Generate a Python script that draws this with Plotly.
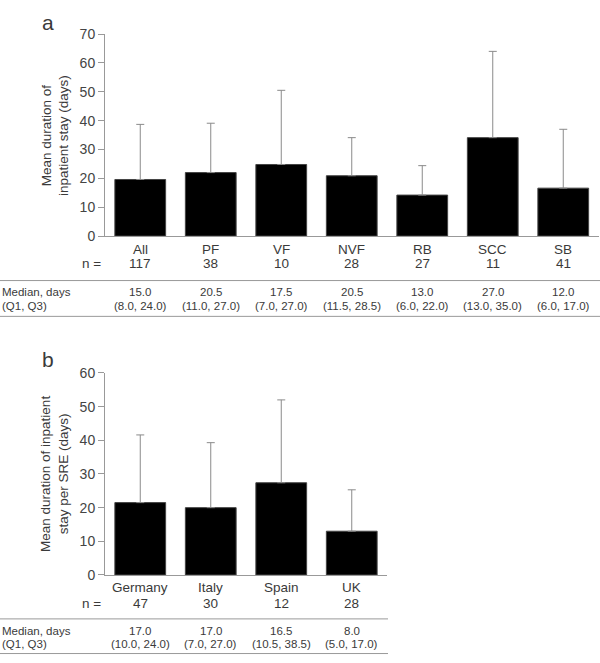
import plotly.graph_objects as go

# ---- Data ----
cats_a = ["All", "PF", "VF", "NVF", "RB", "SCC", "SB"]
n_a = ["117", "38", "10", "28", "27", "11", "41"]
mean_a = [19.6, 22.0, 24.8, 20.9, 14.2, 34.1, 16.6]
upper_a = [38.7, 39.1, 50.5, 34.1, 24.4, 64.0, 37.0]
median_a = ["15.0", "20.5", "17.5", "20.5", "13.0", "27.0", "12.0"]
q_a = ["(8.0, 24.0)", "(11.0, 27.0)", "(7.0, 27.0)", "(11.5, 28.5)",
       "(6.0, 22.0)", "(13.0, 35.0)", "(6.0, 17.0)"]

cats_b = ["Germany", "Italy", "Spain", "UK"]
n_b = ["47", "30", "12", "28"]
mean_b = [21.5, 20.0, 27.4, 13.0]
upper_b = [41.6, 39.3, 52.0, 25.3]
median_b = ["17.0", "17.0", "16.5", "8.0"]
q_b = ["(10.0, 24.0)", "(7.0, 27.0)", "(10.5, 38.5)", "(5.0, 17.0)"]

yticks_a = [0, 10, 20, 30, 40, 50, 60, 70]
yticks_b = [0, 10, 20, 30, 40, 50, 60]

W, H = 600, 663
FONT = "Liberation Sans"
TXT = "#3a3a3a"
GREY = "#999999"

def py(px):
    return 1 - px / H

def pxx(px):
    return px / W

fig = go.Figure()

def add_panel(cats, means, uppers, xaxis, yaxis):
    err = [u - m for u, m in zip(uppers, means)]
    fig.add_trace(go.Bar(
        x=list(range(len(cats))), y=means,
        xaxis=xaxis, yaxis=yaxis,
        width=0.72,
        marker=dict(color="black", line=dict(color="#444444", width=1)),
        error_y=dict(type="data", array=err, arrayminus=[0] * len(err),
                     symmetric=False, color="#8a8a8a", thickness=1, width=4),
        showlegend=False,
    ))

add_panel(cats_a, mean_a, upper_a, "x", "y")
add_panel(cats_b, mean_b, upper_b, "x2", "y2")

axis_common = dict(showgrid=False, zeroline=False, showline=True,
                   linecolor=GREY, linewidth=1)

# panel geometry (pixels)
a_top, a_bot = 26.7, 233.7
b_top, b_bot = 374.0, 581.0
x_left = 105.0
x_right_a = 598.5
x_right_b = 387.0

fig.update_layout(
    width=W, height=H,
    margin=dict(l=0, r=0, t=0, b=0),
    paper_bgcolor="white", plot_bgcolor="white",
    font=dict(family=FONT, color=TXT, size=13),
    xaxis=dict(domain=[pxx(x_left), pxx(x_right_a)], range=[-0.5, 6.5],
               showticklabels=False, ticks="", anchor="y", **axis_common),
    yaxis=dict(domain=[py(a_bot), py(a_top)], range=[0, 70],
               tickvals=yticks_a, ticks="outside", ticklen=6, tickcolor=GREY,
               tickfont=dict(size=14, color="#444444"), anchor="x",
               **axis_common),
    xaxis2=dict(domain=[pxx(x_left), pxx(x_right_b)], range=[-0.5, 3.5],
                showticklabels=False, ticks="", anchor="y2", **axis_common),
    yaxis2=dict(domain=[py(b_bot), py(b_top)], range=[0, 60],
                tickvals=yticks_b, ticks="outside", ticklen=6, tickcolor=GREY,
                tickfont=dict(size=14, color="#444444"), anchor="x2",
                **axis_common),
)

ann = []
shapes = []

def rows(cats, ns, meds, qs, xref, y_name, y_n, y_line1, y_med, y_q, y_line2, line_right):
    for i, c in enumerate(cats):
        ann.append(dict(x=i, y=py(y_name), xref=xref, yref="paper", text=c,
                        showarrow=False, font=dict(size=13.5), yanchor="middle"))
        ann.append(dict(x=i, y=py(y_n), xref=xref, yref="paper", text=ns[i],
                        showarrow=False, font=dict(size=13.5), yanchor="middle"))
        ann.append(dict(x=i, y=py(y_med), xref=xref, yref="paper", text=meds[i],
                        showarrow=False, font=dict(size=11.5), yanchor="middle"))
        ann.append(dict(x=i, y=py(y_q), xref=xref, yref="paper", text=qs[i],
                        showarrow=False, font=dict(size=11.5), yanchor="middle"))
    ann.append(dict(x=pxx(103), y=py(y_n), xref="paper", yref="paper", text="n =",
                    showarrow=False, font=dict(size=13.5), xanchor="right",
                    yanchor="middle"))
    ann.append(dict(x=0, y=py(y_med), xref="paper", yref="paper", text="Median, days",
                    showarrow=False, font=dict(size=11.5), xanchor="left",
                    yanchor="middle"))
    ann.append(dict(x=0, y=py(y_q), xref="paper", yref="paper", text="(Q1, Q3)",
                    showarrow=False, font=dict(size=11.5), xanchor="left",
                    yanchor="middle"))
    for yl in (y_line1, y_line2):
        shapes.append(dict(type="line", xref="paper", yref="paper",
                           x0=0, x1=pxx(line_right), y0=py(yl), y1=py(yl),
                           line=dict(color=GREY, width=1)))

rows(cats_a, n_a, median_a, q_a, "x", 247, 262, 279.3, 291, 305, 316, 600)
rows(cats_b, n_b, median_b, q_b, "x2", 594.3, 610.5, 626, 638.8, 652, 661.5, 388)

# panel labels
ann.append(dict(x=pxx(40), y=py(15), xref="paper", yref="paper", text="a",
                showarrow=False, font=dict(size=21), yanchor="middle"))
ann.append(dict(x=pxx(40), y=py(360), xref="paper", yref="paper", text="b",
                showarrow=False, font=dict(size=21), yanchor="middle"))

# y-axis titles
ann.append(dict(x=pxx(55), y=py((a_top + a_bot) / 2), xref="paper", yref="paper",
                text="Mean duration of<br>inpatient stay (days)", textangle=-90,
                showarrow=False, font=dict(size=13.5), xanchor="center",
                yanchor="middle"))
ann.append(dict(x=pxx(55), y=py((b_top + b_bot) / 2), xref="paper", yref="paper",
                text="Mean duration of inpatient<br>stay per SRE (days)", textangle=-90,
                showarrow=False, font=dict(size=13.5), xanchor="center",
                yanchor="middle"))

fig.update_layout(annotations=ann, shapes=shapes)

post = """
var de = document.documentElement, bd = document.body;
[de, bd].forEach(function(e){ e.style.margin='0'; e.style.padding='0';
  e.style.overflow='hidden'; e.style.height='663px'; e.style.width='600px'; });
var gd = document.getElementById('{plot_id}');
gd.style.position='fixed'; gd.style.top='0px'; gd.style.left='0px';
"""
fig.write_html("out.html", config={"displayModeBar": False}, post_script=post)
